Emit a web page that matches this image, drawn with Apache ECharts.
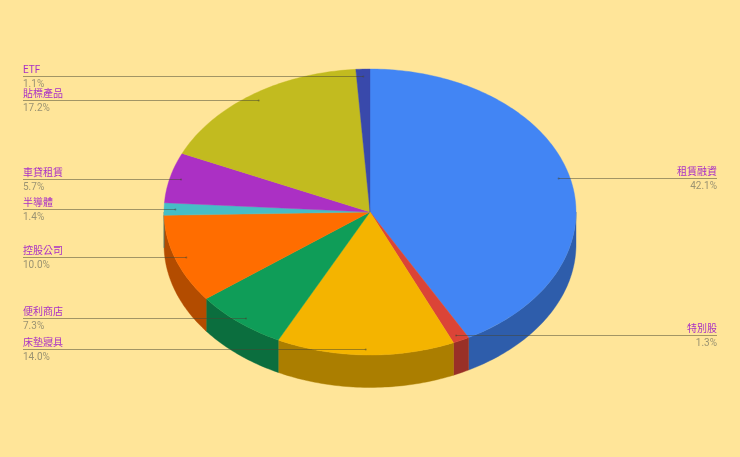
<!DOCTYPE html>
<html><head><meta charset="utf-8">
<style>html,body{margin:0;padding:0;background:#ffe599}#c{width:740px;height:457px}</style>
<script src="https://cdn.jsdelivr.net/npm/echarts@6/dist/echarts.min.js"></script>
</head><body><div id="c"></div>
<script>
const categories = ['租賃融資','特別股','床墊寢具','便利商店','控股公司','半導體','車貸租賃','貼標產品','ETF'];
const shares = [42.1,1.3,14.0,7.3,10.0,1.4,5.7,17.2,1.1];
const palette = ['#4285f4','#db4437','#f4b400','#0f9d58','#ff6d00','#46bdc6','#ab30c4','#c2bb1f','#3949ab'];
const darkFactor = 0.7;
const depthUnits = 0.227, leaderRadiusX = 0.945, leaderRadiusY = 0.955, leaderShiftY = 0.005;
const leftTextX = 23, rightTextX = 717;
const FONT = 'Roboto,"Noto Sans CJK TC",sans-serif';

const total = shares.reduce((a,b)=>a+b,0);
let acc = 0;
const sliceData = shares.map((v,i)=>{const s=acc/total; acc+=v; return [s,acc/total,i];});
const TAU = Math.PI*2;
const pt = (api,a,dy)=>api.coord([Math.sin(a), Math.cos(a)-(dy||0)]);
function darken(hex){
  const n=parseInt(hex.slice(1),16);
  const c=[n>>16,(n>>8)&255,n&255].map(x=>Math.round(x*darkFactor));
  return `rgb(${c[0]},${c[1]},${c[2]})`;
}
function arcPts(api,a0,a1,dy){
  const n=Math.max(2,Math.ceil((a1-a0)/(Math.PI/180))), out=[];
  for(let k=0;k<=n;k++) out.push(pt(api,a0+(a1-a0)*k/n,dy));
  return out;
}
function renderWall(params,api){
  const a0=Math.max(api.value(0)*TAU,Math.PI/2), a1=Math.min(api.value(1)*TAU,Math.PI*1.5);
  if(a1<=a0) return {type:'group',children:[]};
  const c=darken(palette[api.value(2)]);
  const points=arcPts(api,a0,a1,0).concat(arcPts(api,a0,a1,depthUnits).reverse());
  return {type:'polygon',shape:{points},style:{fill:c,stroke:c,lineWidth:0.4}};
}
function renderTop(params,api){
  const a0=api.value(0)*TAU,a1=api.value(1)*TAU,c=palette[api.value(2)];
  const points=[api.coord([0,0])].concat(arcPts(api,a0,a1,0));
  return {type:'polygon',shape:{points},style:{fill:c,stroke:c,lineWidth:0.4}};
}
function renderLabel(params,api){
  const i=api.value(2), mid=(api.value(0)+api.value(1))/2*TAU;
  const p=api.coord([leaderRadiusX*Math.sin(mid), leaderRadiusY*Math.cos(mid)-leaderShiftY]), left=Math.sin(mid)<0;
  const tx=left?leftTextX:rightTextX, y=Math.floor(p[1])+0.5;
  const align=left?'left':'right';
  return {type:'group',children:[
    {type:'line',shape:{x1:tx,y1:y,x2:p[0],y2:y},style:{stroke:'rgba(70,70,50,0.5)',lineWidth:1}},
    {type:'circle',shape:{cx:p[0],cy:y,r:1},style:{fill:'rgba(70,70,50,0.5)'}},
    {type:'text',style:{text:categories[i],x:tx,y:y-1,align,verticalAlign:'bottom',font:'10px '+FONT,fill:'#a930c6'}},
    {type:'text',style:{text:shares[i].toFixed(1)+'%',x:tx,y:y+3,align,verticalAlign:'top',font:'10px '+FONT,fill:'#9b9372'}}
  ]};
}
const chart=echarts.init(document.getElementById('c'),null,{renderer:'canvas'});
chart.setOption({
  backgroundColor:'#ffe599',animation:false,tooltip:{show:false},
  grid:{left:164,width:412,top:69,height:286},
  xAxis:{type:'value',min:-1,max:1,show:false},
  yAxis:{type:'value',min:-1,max:1,show:false},
  series:[
    {type:'custom',renderItem:renderWall,data:sliceData,z:1,silent:true,clip:false},
    {type:'custom',renderItem:renderTop,data:sliceData,z:2,silent:true,clip:false},
    {type:'custom',renderItem:renderLabel,data:sliceData,z:3,silent:true,clip:false}
  ]
});
</script></body></html>
